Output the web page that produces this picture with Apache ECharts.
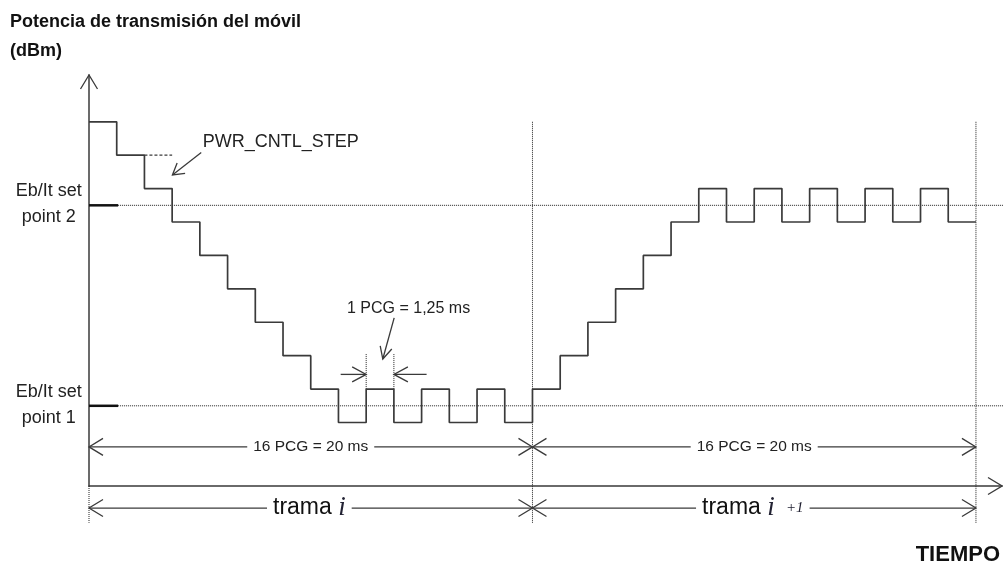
<!DOCTYPE html>
<html>
<head>
<meta charset="utf-8">
<script src="https://cdn.jsdelivr.net/npm/echarts@6/dist/echarts.min.js"></script>
<style>
  html, body { margin: 0; padding: 0; background: #fff; }
  #dataView { width: 1003px; height: 565px; }
</style>
</head>
<body>
<div id="dataView"></div>
<script>
// niveles de potencia por PCG (escalones de PWR_CNTL_STEP), 2 tramas de 16 PCG
var levels = [9, 8, 7, 6, 5, 4, 3, 2, 1, 0, 1, 0, 1, 0, 1, 0,
              1, 2, 3, 4, 5, 6, 7, 6, 7, 6, 7, 6, 7, 6, 7, 6];
var frameEdges = [0, 16, 32];
var setPoints = [0.5, 6.5];
var setLabels = [['Eb/It set', 'point 1'], ['Eb/It set', 'point 2']];
var spanLabels = ['16 PCG = 20 ms', '16 PCG = 20 ms'];
var frameLabels = [['trama', 'i', ''], ['trama', 'i', '+1']];

var INK = '#3a3a3a';
var FONT = 'Liberation Sans, Arial, sans-serif';

var stepData = levels.map(function (v, i) { return [i, v]; });
stepData.push([levels.length, levels[levels.length - 1]]);

function annotations(params, api) {
  var kids = [];
  function P(x, y) { return api.coord([x, y]); }
  function seg(a, b, st) {
    kids.push({ type: 'line', shape: { x1: a[0], y1: a[1], x2: b[0], y2: b[1] },
      style: Object.assign({ stroke: INK, lineWidth: 1.3 }, st || {}) });
  }
  // punta de flecha abierta en "tip", viniendo desde "from"
  function chev(tip, from, L, W) {
    L = L || 14; W = W || 8.5;
    var dx = tip[0] - from[0], dy = tip[1] - from[1];
    var d = Math.sqrt(dx * dx + dy * dy); dx /= d; dy /= d;
    var bx = tip[0] - dx * L, by = tip[1] - dy * L;
    kids.push({ type: 'polyline',
      shape: { points: [[bx - dy * W, by + dx * W], tip, [bx + dy * W, by - dx * W]] },
      style: { stroke: INK, lineWidth: 1.3, fill: null } });
  }
  function txt(p, s, st) {
    kids.push({ type: 'text', x: p[0], y: p[1],
      style: Object.assign({ text: s, fill: '#222', fontSize: 18, fontFamily: FONT,
        align: 'center', verticalAlign: 'middle' }, st || {}) });
  }
  var dot = { lineWidth: 1, stroke: '#222', lineDash: [1, 1] };

  // flechas de los ejes
  chev(P(0, 10.4), P(0, 0));
  chev(P(32.94, -1.9), P(0, -1.9));

  // puntos de consigna
  setPoints.forEach(function (sp, k) {
    seg(P(0, sp), P(1.05, sp), { stroke: '#111', lineWidth: 2.5 });
    seg(P(1.05, sp), P(33.1, sp), dot);
    var p = P(-1.45, sp);
    txt([p[0], p[1] - 14], setLabels[k][0]);
    txt([p[0], p[1] + 12], setLabels[k][1]);
  });

  // limites de trama
  seg(P(frameEdges[1], 9), P(frameEdges[1], -3.0), dot);
  seg(P(frameEdges[2], 9), P(frameEdges[2], -3.0), dot);
  seg(P(frameEdges[0], -1.9), P(frameEdges[0], -3.0), dot);

  // cotas 16 PCG y tramas
  for (var k = 0; k < 2; k++) {
    var a = frameEdges[k], b = frameEdges[k + 1], m = (a + b) / 2;
    var l1 = P(a, -0.73), r1 = P(b, -0.73);
    seg(l1, r1);
    chev(l1, r1); chev(r1, l1);
    txt(P(m, -0.73), spanLabels[k], { fontSize: 15.5, backgroundColor: '#fff', padding: [0, 6] });

    var l2 = P(a, -2.56), r2 = P(b, -2.56);
    seg(l2, r2);
    chev(l2, r2); chev(r2, l2);
    var fl = frameLabels[k];
    txt(P(m - 0.05, -2.56), '{a|' + fl[0] + ' }{b|' + fl[1] + '}' + (fl[2] ? '{c|   ' + fl[2] + '}' : ''), {
      backgroundColor: '#fff', padding: [0, 6],
      rich: {
        a: { fontSize: 23, fontFamily: FONT, fill: '#111' },
        b: { fontSize: 27, fontFamily: 'Liberation Serif, serif', fontStyle: 'italic', fill: '#223' },
        c: { fontSize: 15, fontFamily: 'Liberation Serif, serif', fontStyle: 'italic', fill: '#223' }
      }
    });
  }

  // PWR_CNTL_STEP
  seg(P(2, 8), P(3, 8), { lineDash: [3, 2] });
  seg(P(4.05, 8.08), P(3.01, 7.41));
  chev(P(3.01, 7.41), P(4.05, 8.08), 11, 6.5);
  txt(P(4.1, 8.4), 'PWR_CNTL_STEP', { align: 'left' });

  // 1 PCG = 1,25 ms
  seg(P(10, 1), P(10, 2.05), dot);
  seg(P(11, 1), P(11, 2.05), dot);
  seg(P(9.08, 1.44), P(10, 1.44));
  chev(P(10, 1.44), P(9.08, 1.44), 14, 7.5);
  seg(P(12.18, 1.44), P(11, 1.44));
  chev(P(11, 1.44), P(12.18, 1.44), 14, 7.5);
  seg(P(11.01, 3.13), P(10.6, 1.9));
  chev(P(10.6, 1.9), P(11.01, 3.13), 12, 6);
  txt(P(11.53, 3.4), '1 PCG = 1,25 ms', { fontSize: 16 });

  return { type: 'group', children: kids };
}

var chart = echarts.init(document.getElementById('dataView'));
var option = {
  animation: false,
  backgroundColor: '#fff',
  title: [
    { text: 'Potencia de transmisión del móvil\n(dBm)', left: 10, top: 8, padding: 0,
      textStyle: { fontSize: 18, fontWeight: 'bold', color: '#111', fontFamily: FONT, lineHeight: 29 } },
    { text: 'TIEMPO', right: 3, top: 544, padding: 0,
      textStyle: { fontSize: 22, fontWeight: 'bold', color: '#111', fontFamily: FONT, lineHeight: 22 } }
  ],
  grid: { left: 89, right: 1, top: 75, bottom: 79, containLabel: false },
  xAxis: {
    type: 'value', min: 0, max: 32.94,
    axisLine: { show: true, onZero: false, lineStyle: { color: INK, width: 1.5 } },
    axisTick: { show: false }, axisLabel: { show: false }, splitLine: { show: false }
  },
  yAxis: {
    type: 'value', min: -1.9, max: 10.4,
    axisLine: { show: true, onZero: false, lineStyle: { color: INK, width: 1.5 } },
    axisTick: { show: false }, axisLabel: { show: false }, splitLine: { show: false }
  },
  series: [
    {
      type: 'custom', silent: true, z: 1,
      renderItem: annotations,
      data: [[0, 0]]
    },
    {
      name: 'potencia', type: 'line', step: 'end', symbol: 'none', z: 3,
      lineStyle: { color: INK, width: 1.7 },
      data: stepData
    }
  ]
};
chart.setOption(option);
</script>
</body>
</html>
